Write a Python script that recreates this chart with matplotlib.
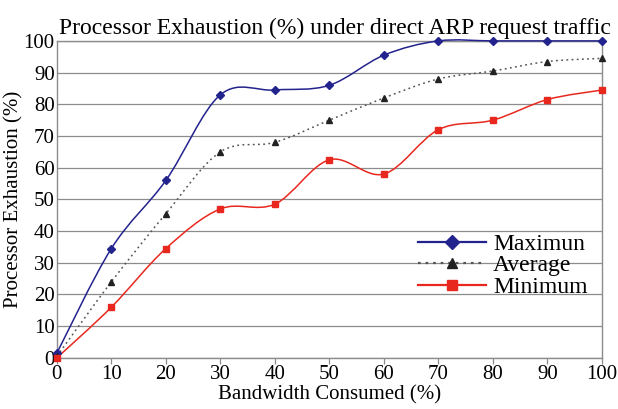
import matplotlib
matplotlib.use("Agg")
import matplotlib.pyplot as plt
from matplotlib.path import Path
from matplotlib.patches import PathPatch
from matplotlib.lines import Line2D

# ---------------------------------------------------------------------------
# Data
# ---------------------------------------------------------------------------
bandwidth = [0, 10, 20, 30, 40, 50, 60, 70, 80, 90, 100]
maximum = [1.5, 34.5, 56, 83, 84.5, 86, 95.5, 100, 100, 100, 100]
average = [0.5, 24, 45.5, 65, 68, 75, 82, 88, 90.5, 93.5, 94.5]
minimum = [0, 16, 34.5, 47, 48.5, 62.5, 58, 72, 75, 81.5, 84.5]
x_ticks = list(range(0, 101, 10))
y_ticks = list(range(0, 101, 10))

plt.rcParams["font.family"] = ["Liberation Serif", "DejaVu Serif"]


def smooth_path(xs, ys):
    # Excel-like smoothed line: cubic Bezier segments through each point
    verts = [(xs[0], ys[0])]
    codes = [Path.MOVETO]
    n = len(xs)
    for i in range(n - 1):
        x0, y0 = (xs[i - 1], ys[i - 1]) if i > 0 else (xs[i], ys[i])
        x1, y1 = xs[i], ys[i]
        x2, y2 = xs[i + 1], ys[i + 1]
        x3, y3 = (xs[i + 2], ys[i + 2]) if i + 2 < n else (x2, y2)
        c1 = (x1 + (x2 - x0) / 6, y1 + (y2 - y0) / 6)
        c2 = (x2 - (x3 - x1) / 6, y2 - (y3 - y1) / 6)
        verts += [c1, c2, (x2, y2)]
        codes += [Path.CURVE4] * 3
    return Path(verts, codes)


fig = plt.figure(figsize=(6.18, 4.09), dpi=100)
ax = fig.add_axes([0.092, 0.125, 0.882, 0.775])

GRID = "#8c8c8c"
SERIES = [
    ("Maximun", maximum, "#23238e", "-", "D", 4, "#23238e"),
    ("Average", average, "#555555", (0, (1.2, 2.2)), "^", 4.5, "#222222"),
    ("Minimum", minimum, "#e8281e", "-", "s", 4, "#e8281e"),
]

handles = []
for label, vals, col, ls, mk, ms, mcol in SERIES:
    patch = PathPatch(smooth_path(bandwidth, vals), facecolor="none",
                      edgecolor=col, linestyle=ls, linewidth=1.1, zorder=3,
                      clip_on=False)
    ax.add_patch(patch)
    ax.plot(bandwidth, vals, linestyle="none", marker=mk, markersize=ms,
            color=mcol, zorder=4, clip_on=False)
    handles.append(Line2D([], [], color=col, linestyle=ls, linewidth=1.6,
                          marker=mk, markersize=ms + 3, markerfacecolor=mcol,
                          markeredgecolor=mcol))

ax.set_xlim(0, 100)
ax.set_ylim(0, 100)
ax.set_xticks(x_ticks)
ax.set_yticks(y_ticks)
ax.yaxis.grid(True, color=GRID, linewidth=0.9)
ax.set_axisbelow(True)
for s in ax.spines.values():
    s.set_color(GRID)
    s.set_linewidth(1.0)
ax.tick_params(axis="both", colors=GRID, labelcolor="black", labelsize=15,
               length=4, width=0.9, pad=1)
ax.tick_params(axis="y", length=0, pad=1.5)

ax.set_xlabel("Bandwidth Consumed (%)", fontsize=15, labelpad=1)
ax.set_ylabel("Processor Exhaustion (%)", fontsize=15, labelpad=0)
ax.set_title("Processor Exhaustion (%) under direct ARP request traffic",
             fontsize=17, pad=5, x=0.51)

ax.legend(handles, [h[0] for h in SERIES], loc="upper left",
          bbox_to_anchor=(0.64, 0.43), frameon=False, fontsize=17,
          handlelength=2.9, handletextpad=0.3, labelspacing=0.0,
          borderpad=0)

fig.savefig("out.png", dpi=100)
